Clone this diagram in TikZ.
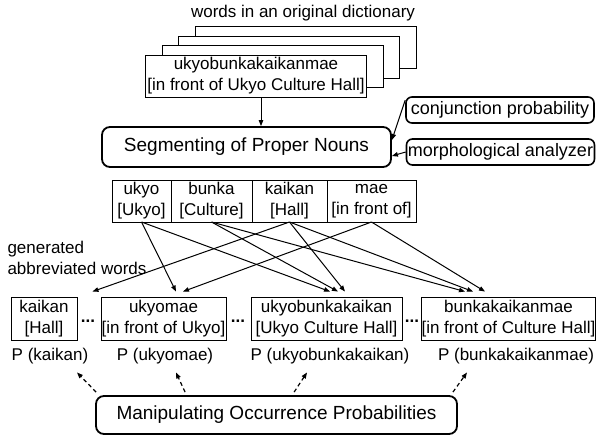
\documentclass[tikz,border=0pt]{standalone}
\usepackage{fontspec}
\setmainfont{Liberation Sans}
\usepackage{tikz}
\usetikzlibrary{arrows.meta}
\newcommand{\wordfont}{\fontsize{17}{21}\selectfont}
\newcommand{\toolfont}{\fontsize{18}{21}\selectfont}
\newcommand{\procfont}{\fontsize{19}{23}\selectfont}
\tikzset{>/.tip={Triangle[length=6pt,width=4.5pt]},
  wordbox/.style={draw, line width=0.9pt, fill=white, align=center, inner xsep=0.5pt,
    inner ysep=1pt, minimum height=43pt, font=\wordfont},
  dictbox/.style={wordbox, minimum width=221pt, minimum height=42pt},
  cellbox/.style={wordbox, minimum height=42pt, outer sep=0pt},
  procbox/.style={draw, line width=1.8pt, rounded corners=8pt, font=\procfont},
  toolbox/.style={draw, line width=1.6pt, rounded corners=6pt, minimum width=188pt,
    minimum height=26pt, inner sep=1pt, font=\toolfont},
  dots/.style={font=\wordfont\bfseries, inner sep=0pt},
  link/.style={->, line width=1pt},
  problink/.style={->, line width=1.2pt, dash pattern=on 4pt off 3pt}}
\begin{document}
\begin{tikzpicture}[x=1pt,y=-1pt]
\useasboundingbox (0,0) rectangle (596,436);
\node[font=\wordfont] (dict-label) at (303,13) {words in an original dictionary};
\node[dictbox] (dict-4) at (305.5,47.5) {};
\node[dictbox] (dict-3) at (289,57) {};
\node[dictbox] (dict-2) at (272.5,66.5) {};
\node[dictbox] (dict-1) at (256,76) {ukyobunkakaikanmae\\{[in front of Ukyo Culture Hall]}};

\node[procbox, minimum width=289pt, minimum height=40pt] (seg) at (246.5,147) {Segmenting of Proper Nouns};
\node[toolbox] (conj) at (500,110) {conjunction probability};
\node[toolbox] (morph) at (500.5,152) {morphological analyzer};

\node[cellbox, minimum width=59pt] (ukyo) at (141.5,201) {ukyo\\{[Ukyo]}};
\node[cellbox, minimum width=81pt] (bunka) at (211.5,201) {bunka\\{[Culture]}};
\node[cellbox, minimum width=75pt] (kaikan) at (289.5,201) {kaikan\\{[Hall]}};
\node[cellbox, minimum width=89pt] (mae) at (371.5,201) {mae\\{[in front of]}};

\node[font=\wordfont, align=left, anchor=west] (gen-label) at (4,258) {generated\\abbreviated words};

\node[wordbox, minimum width=66pt] (w-kaikan) at (44,318.5) {kaikan\\{[Hall]}};
\node[wordbox, minimum width=125pt] (w-ukyomae) at (163.5,318.5) {ukyomae\\{[in front of Ukyo]}};
\node[wordbox, minimum width=151pt] (w-ukyobunkakaikan) at (326.5,318.5) {ukyobunkakaikan\\{[Ukyo Culture Hall]}};
\node[wordbox, minimum width=173pt] (w-bunkakaikanmae) at (508.5,318.5) {bunkakaikanmae\\{[in front of Culture Hall]}};
\node[dots] (dots-1) at (88,321) {...};
\node[dots] (dots-2) at (238,321) {...};
\node[dots] (dots-3) at (412,321) {...};

\node[font=\wordfont] (P-kaikan) at (50,356) {P (kaikan)};
\node[font=\wordfont] (P-ukyomae) at (165,356) {P (ukyomae)};
\node[font=\wordfont] (P-ukyobunkakaikan) at (330,356) {P (ukyobunkakaikan)};
\node[font=\wordfont] (P-bunkakaikanmae) at (516,356) {P (bunkakaikanmae)};

\node[procbox, minimum width=361pt, minimum height=38pt] (manip) at (276.5,415) {Manipulating Occurrence Probabilities};

\path[link] ([xshift=5pt]dict-1.south) edge ([xshift=5pt]dict-1.south |- seg.north);
\path[link] ([yshift=-4pt]conj.north west) edge ([yshift=7pt]seg.east);
\path[link] (morph.west) edge ([yshift=-9pt]seg.east);

\path[link] (kaikan.south) edge ([xshift=15pt,yshift=5pt]w-kaikan.north east);
\path[link] (ukyo.south) edge ([xshift=12.5pt,yshift=5pt]w-ukyomae.north);
\path[link] (mae.south) edge ([xshift=19.5pt,yshift=5pt]w-ukyomae.north);
\path[link] (ukyo.south) edge ([xshift=3.5pt,yshift=5pt]w-ukyobunkakaikan.north);
\path[link] (bunka.south) edge ([xshift=11.5pt,yshift=5pt]w-ukyobunkakaikan.north);
\path[link] (kaikan.south) edge ([xshift=18.5pt,yshift=5pt]w-ukyobunkakaikan.north);
\path[link] (bunka.south) edge ([xshift=-43.5pt,yshift=5pt]w-bunkakaikanmae.north);
\path[link] (kaikan.south) edge ([xshift=-35.5pt,yshift=5pt]w-bunkakaikanmae.north);
\path[link] (mae.south) edge ([xshift=-23.5pt,yshift=5pt]w-bunkakaikanmae.north);

\path[problink] ([xshift=1pt,yshift=3pt]manip.north west) edge ([xshift=27pt,yshift=-5pt]P-kaikan.south);
\path[problink] ([xshift=90pt,yshift=3pt]manip.north west) edge ([xshift=11pt,yshift=-5pt]P-ukyomae.south);
\path[problink] ([xshift=199pt,yshift=3pt]manip.north west) edge ([xshift=-23pt,yshift=-5pt]P-ukyobunkakaikan.south);
\path[problink] ([xshift=-5pt,yshift=3pt]manip.north east) edge ([xshift=-49pt,yshift=-5pt]P-bunkakaikanmae.south);
\end{tikzpicture}
\end{document}
